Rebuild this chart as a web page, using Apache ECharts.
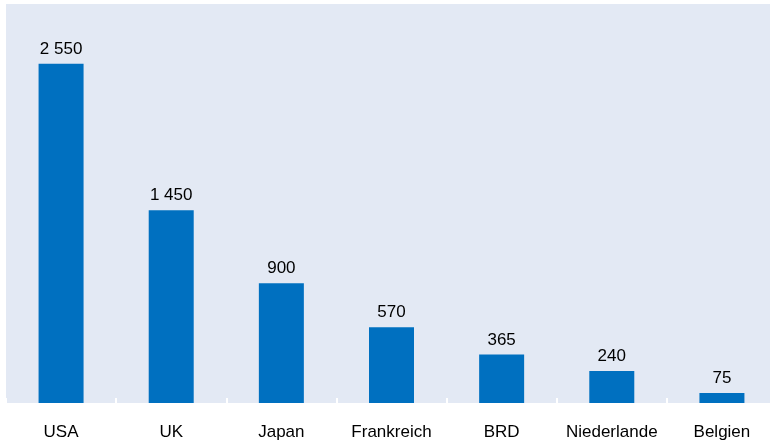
<!DOCTYPE html>
<html>
<head>
<meta charset="utf-8">
<script src="https://cdn.jsdelivr.net/npm/echarts@6/dist/echarts.min.js"></script>
<style>
  html, body { margin: 0; padding: 0; background: #ffffff; }
  #myChart { width: 770px; height: 444px; }
</style>
</head>
<body>
<div id="myChart"></div>
<script>
  const countries = ['USA', 'UK', 'Japan', 'Frankreich', 'BRD', 'Niederlande', 'Belgien']
  const values = [2550, 1450, 900, 570, 365, 240, 75]

  // 2550 -> "2 550"
  function fmt(v) {
    return String(v).replace(/\B(?=(\d{3})+(?!\d))/g, ' ')
  }

  const myChart = echarts.init(document.getElementById('myChart'))
  myChart.setOption({
    animation: false,
    textStyle: {
      fontFamily: 'Liberation Sans, Arial, sans-serif'
    },
    grid: {
      show: true,
      left: 6,
      top: 4,
      width: 771,
      height: 399,
      outerBoundsMode: 'none',
      containLabel: false,
      backgroundColor: '#e3e9f4',
      borderWidth: 0
    },
    xAxis: {
      type: 'category',
      data: countries,
      axisLine: { show: false },
      axisTick: {
        show: true,
        inside: true,
        length: 5,
        lineStyle: { color: '#ffffff', width: 2 }
      },
      axisLabel: {
        color: '#000000',
        fontSize: 17,
        margin: 21,
        interval: 0,
        hideOverlap: false
      }
    },
    yAxis: {
      type: 'value',
      min: 0,
      max: 3000,
      show: false,
      splitLine: { show: false }
    },
    series: [
      {
        type: 'bar',
        data: values,
        barWidth: 45,
        itemStyle: { color: '#0070c0' },
        label: {
          show: true,
          position: 'top',
          distance: 6,
          color: '#000000',
          fontSize: 17,
          formatter: p => fmt(p.value)
        }
      }
    ]
  })
</script>
</body>
</html>
